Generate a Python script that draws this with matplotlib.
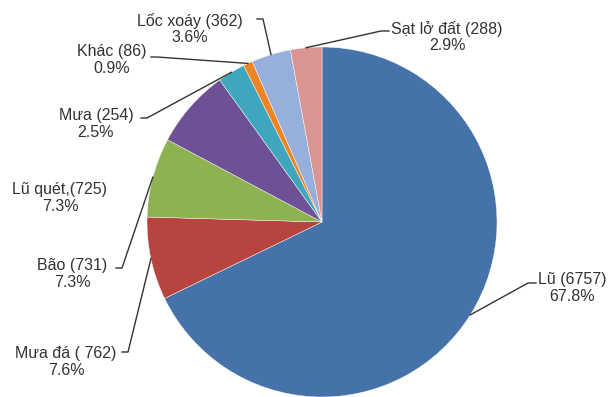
import numpy as np
import matplotlib.pyplot as plt

plt.rcParams['font.family'] = ['Liberation Sans', 'DejaVu Sans']

# disaster counts, in slice order (clockwise from 12 o'clock)
names = ['Lũ', 'Mưa đá', 'Bão', 'Lũ quét', 'Mưa', 'Khác', 'Lốc xoáy', 'Sạt lở đất']
counts = [6757, 762, 731, 725, 254, 86, 362, 288]
name_fmt = ['{} ({})', '{} ( {})', '{} ({})', '{},({})', '{} ({})', '{} ({})', '{} ({})', '{} ({})']
colors = ['#4672aa', '#b8443f', '#8fb250', '#6e5194', '#3fa6bd', '#f08424', '#97b0db', '#d99593']

# label centres (pixels from top-left) and leader elbow points
label_xy = [(572, 288), (66, 362), (72, 274), (60, 198), (96, 124), (112, 60), (190, 29), (447, 37)]
elbow = [(528, 283), (128, 352), (122, 268), None, (147, 118), (157, 57), (263, 19), (381, 31)]
start = [(536, 283), (122, 352), (116, 268), None, (141, 118), (151, 57), (257, 19), (389, 31)]

W, H = 612, 397
cx, cy, R = 322, 222, 175

fig = plt.figure(figsize=(W / 100, H / 100), dpi=100)
ax = fig.add_axes([0, 0, 1, 1])

wedges, _ = ax.pie(counts, colors=colors, startangle=90, counterclock=False,
                   center=(cx, H - cy), radius=R,
                   wedgeprops=dict(linewidth=0.3, edgecolor='white'))
ax.set_xlim(0, W)
ax.set_ylim(0, H)
ax.set_aspect('equal')
ax.axis('off')

total = sum(counts)
for i, w in enumerate(wedges):
    pct = 100.0 * counts[i] / total
    lx, ly = label_xy[i]
    ax.text(lx, H - ly, name_fmt[i].format(names[i], counts[i]) + '\n{:.1f}%'.format(pct),
            ha='center', va='center', fontsize=11.5, color='#333333', linespacing=1.1)
    if elbow[i] is None:
        continue
    mid = np.deg2rad((w.theta1 + w.theta2) / 2)
    px = cx + R * np.cos(mid)
    py = H - cy + R * np.sin(mid)
    xs = [start[i][0], elbow[i][0], px]
    ys = [H - start[i][1], H - elbow[i][1], py]
    ax.plot(xs, ys, color='#333333', linewidth=1.0)

fig.savefig('out.png', dpi=100)
